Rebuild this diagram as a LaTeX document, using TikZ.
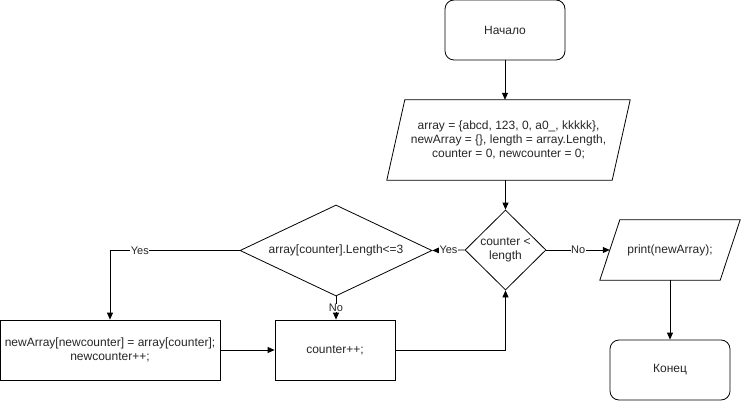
\documentclass[tikz,border=0pt]{standalone}
\usepackage{fontspec}
\setmainfont{Liberation Sans}
\usetikzlibrary{shapes.geometric,arrows.meta}
\begin{document}
\begin{tikzpicture}[x=1pt,y=-1pt,
  every node/.style={font=\fontsize{12}{14}\selectfont, text=black!85},
  proc/.style={draw, rectangle, inner sep=0pt, align=center, line width=0.8pt},
  term/.style={draw, rectangle, rounded corners=9pt, inner sep=0pt, minimum width=120pt, minimum height=60pt, line width=0.8pt},
  ioframe/.style={rectangle, inner sep=0pt, align=center},
  dec/.style={draw, diamond, inner sep=0pt, line width=0.8pt},
  conn/.style={-{Triangle[length=7pt,width=6pt]}, line width=0.8pt},
  lbl/.style={fill=white, inner sep=0.5pt, font=\fontsize{11}{13}\selectfont}
]
\useasboundingbox (0,0) rectangle (741,401);

\node[term] (start) at (505,30) {Начало};

\node[ioframe, minimum width=225pt, minimum height=80pt] (init) at (508.5,140)
  {array = \{abcd, 123, 0, a0\_, kkkkk\},\\newArray = \{\}, length = array.Length,\\counter = 0, newcounter = 0;};
\draw[line width=0.8pt] ([xshift=9pt]init.north west) -- ([xshift=9pt]init.north east)
  -- ([xshift=-9pt]init.south east) -- ([xshift=-9pt]init.south west) -- cycle;

\node[dec, minimum width=81pt, minimum height=80pt] (cond) at (505.5,250) {};
\node[align=center] (condt) at (cond) {counter <\\length};

\node[dec, minimum width=192pt, minimum height=91pt] (chk) at (336,250.5) {};
\node (chkt) at (chk) {array[counter].Length<=3};

\node[proc, minimum width=220pt, minimum height=60pt] (add) at (110,350)
  {newArray[newcounter] = array[counter];\\newcounter++;};
\node[proc, minimum width=120pt, minimum height=60pt] (inc) at (335,350) {counter++;};

\node[ioframe, minimum width=120pt, minimum height=60pt] (out) at (670,250) {print(newArray);};
\draw[line width=0.8pt] ([xshift=10pt]out.north west) -- ([xshift=10pt]out.north east)
  -- ([xshift=-10pt]out.south east) -- ([xshift=-10pt]out.south west) -- cycle;

\node[term] (stop) at (670,370) {Конец};

\coordinate (yesbend) at (110,250.5);
\coordinate (incbend) at (505.5,350);

\draw[conn] (start.south) -- (init.north -| start.south);
\draw[conn] (init.south -| cond.north) -- (cond.north);
\draw[conn] (cond.west) -- node[lbl] {Yes} (chk.east);
\draw[conn] (cond.east) -- node[lbl] {No} (out.west);
\draw[conn] (chk.west) -- node[lbl, pos=0.77] {Yes} (yesbend) -- (add.north);
\draw[conn] (chk.south) -- node[lbl] {No} (inc.north -| chk.south);
\draw[conn] (add.east) -- (inc.west);
\draw[conn] (inc.east) -- (incbend) -- (cond.south);
\draw[conn] (out.south) -- (stop.north);
\end{tikzpicture}
\end{document}
